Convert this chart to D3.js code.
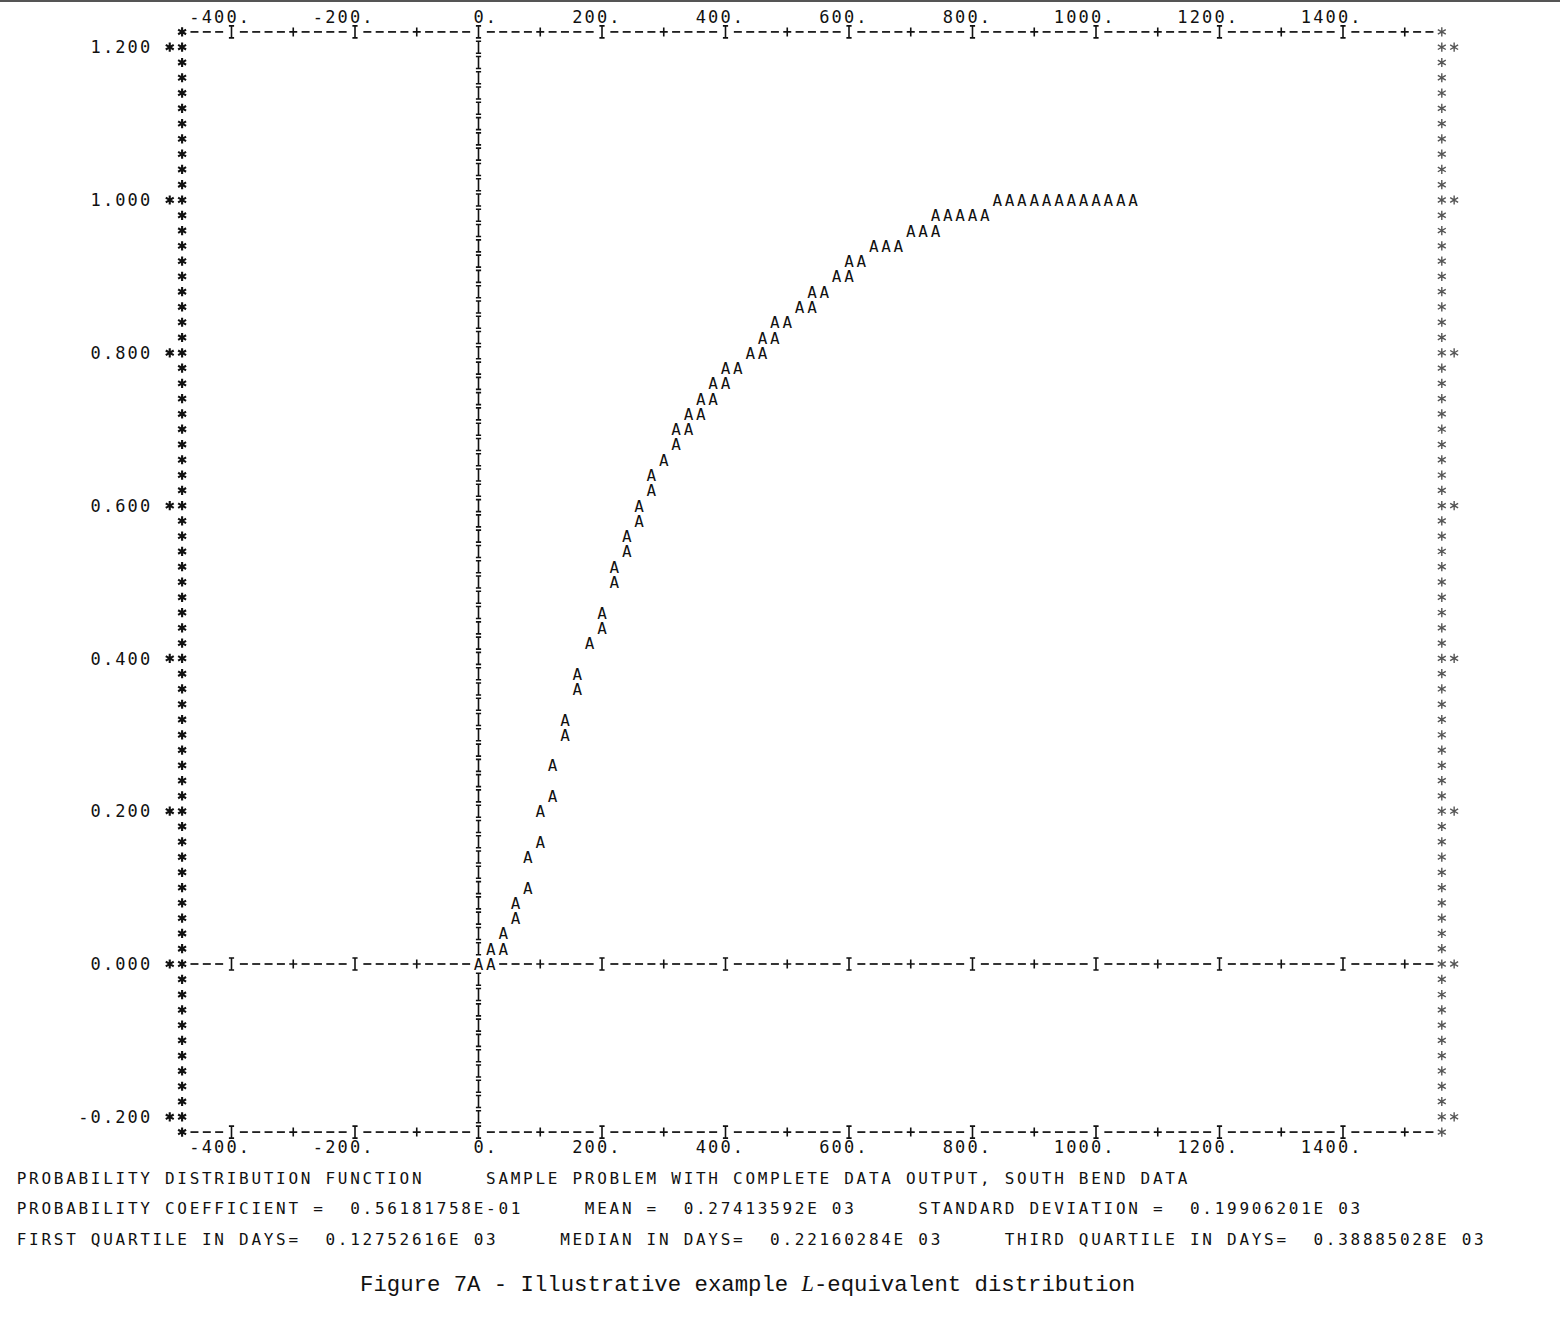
<!DOCTYPE html>
<html><head><meta charset="utf-8">
<script src="https://cdn.jsdelivr.net/npm/d3@7"></script>
<style>body{margin:0;background:#fff;} svg{display:block}</style>
</head><body>
<svg id="c" width="1560" height="1317"></svg>
<script>
// ---- data (days, cumulative probability) ----
const days = [0,20, 20,40, 40, 60,60, 80,80, 100,100, 120,120, 140,140, 160,160, 180,
  200,200, 220,220, 240,240, 260,260, 280,280, 300, 320, 320,340, 340,360, 360,380,
  380,400, 400,420, 440,460, 460,480, 480,500, 520,540, 540,560, 580,600, 600,620,
  640,660,680, 700,720,740, 740,760,780,800,820,
  840,860,880,900,920,940,960,980,1000,1020,1040,1060];
const prob = [0,0, 0.02,0.02, 0.04, 0.06,0.08, 0.10,0.14, 0.16,0.20, 0.22,0.26, 0.30,0.32, 0.36,0.38, 0.42,
  0.44,0.46, 0.50,0.52, 0.54,0.56, 0.58,0.60, 0.62,0.64, 0.66, 0.68, 0.70,0.70, 0.72,0.72, 0.74,0.74,
  0.76,0.76, 0.78,0.78, 0.80,0.80, 0.82,0.82, 0.84,0.84, 0.86,0.86, 0.88,0.88, 0.90,0.90, 0.92,0.92,
  0.94,0.94,0.94, 0.96,0.96,0.96, 0.98,0.98,0.98,0.98,0.98,
  1.00,1.00,1.00,1.00,1.00,1.00,1.00,1.00,1.00,1.00,1.00,1.00];
const xTickValues = [-400,-200,0,200,400,600,800,1000,1200,1400];
const xTickLabels = ["-400.","-200.","0.","200.","400.","600.","800.","1000.","1200.","1400."];
const yTickValues = [-0.2,0,0.2,0.4,0.6,0.8,1.0,1.2];
const yTickLabels = ["-0.200","0.000","0.200","0.400","0.600","0.800","1.000","1.200"];
const footerLines = [
  "PROBABILITY DISTRIBUTION FUNCTION     SAMPLE PROBLEM WITH COMPLETE DATA OUTPUT, SOUTH BEND DATA",
  "PROBABILITY COEFFICIENT =  0.56181758E-01     MEAN =  0.27413592E 03     STANDARD DEVIATION =  0.19906201E 03",
  "FIRST QUARTILE IN DAYS=  0.12752616E 03     MEDIAN IN DAYS=  0.22160284E 03     THIRD QUARTILE IN DAYS=  0.38885028E 03"
];
const captionParts = ["Figure 7A - Illustrative example ", "L", "-equivalent distribution"];

// ---- scales (one printer column = 20 days, one printer line = 0.02) ----
const CW = 12.35, RH = 15.28, X0 = 478.5, Y0 = 964;
const DX = 20, DY = 0.02;
const x = d3.scaleLinear().domain([-480, 1560]).range([X0 - 24*CW, X0 + 78*CW]);
const y = d3.scaleLinear().domain([-0.2, 1.2]).range([Y0 + 10*RH, Y0 - 60*RH]);
const cx = c => x(c*DX), cy = r => y(r*DY);
const FONT = "'DejaVu Sans Mono', 'Liberation Mono', monospace";

const svg = d3.select("#c");
svg.append("rect").attr("x",0).attr("y",0).attr("width",1560).attr("height",2).attr("fill","#555");

const colL = Math.round(x.domain()[0]/DX), colR = Math.round(x.domain()[1]/DX);
const rowB = Math.round(y.domain()[0]/DY), rowT = Math.round(y.domain()[1]/DY);
const mod = (a, n) => ((a % n) + n) % n;
const tickStep = Math.round((xTickValues[1]-xTickValues[0])/DX);
const yStepRows = Math.round((yTickValues[1]-yTickValues[0])/DY);

// data cells (printer column / line)
const pts = days.map((d, i) => ({c: Math.round(d/DX), r: Math.round(prob[i]/DY)}));
const occupied = new Set(pts.map(p => p.c + "," + p.r));

// ---- axis marks as printer-style glyph shapes ----
const marks = [];
const add = (c, r, t, side) => { if (!occupied.has(c + "," + r)) marks.push({c, r, t, side}); };
function axisRow(r, dbl) {
  add(colL, r, "star", "L"); add(colR, r, "star", "R");
  if (dbl) { add(colL-1, r, "star", "L"); add(colR+1, r, "star", "R"); }
  for (let c = colL+1; c < colR; c++) {
    const m = mod(c, tickStep);
    add(c, r, m === 0 ? "ibeam" : (m === tickStep/2 ? "plus" : "dash"));
  }
}
axisRow(rowT+1, false);
axisRow(rowB-1, false);
for (let r = rowB; r <= rowT; r++) {
  if (r === 0) { axisRow(0, true); continue; }
  const labeled = mod(r, yStepRows) === 0;
  add(colL, r, "star", "L"); add(colR, r, "star", "R");
  if (labeled) { add(colL-1, r, "star", "L"); add(colR+1, r, "star", "R"); }
  add(0, r, "ibeam");
}
const u = Math.sqrt(3)/2;
const shape = {
  dash: "M-4,0H4",
  plus: "M-4,0H4M0,-4.5V4.5",
  ibeam: "M0,-6V6M-2.6,-6H2.6M-2.6,6H2.6",
  star: (() => { const R = 4.6; return `M0,${-R}V${R}M${-R*u},${-R/2}L${R*u},${R/2}M${-R*u},${R/2}L${R*u},${-R/2}`; })()
};
svg.append("g").selectAll("path").data(marks).join("path")
  .attr("transform", d => `translate(${cx(d.c)},${cy(d.r)})`)
  .attr("d", d => shape[d.t])
  .attr("fill", "none")
  .attr("stroke", d => d.side === "R" ? "#555" : "#111")
  .attr("stroke-width", d => d.t === "star" ? (d.side === "R" ? 1.4 : 2.1) : (d.t === "dash" ? 1.7 : 1.6))
  .attr("stroke-linecap", "butt");

// ---- data points: letter A, one text per printer column ----
const byCol = d3.groups(pts, p => p.c);
svg.append("g").attr("font-family", FONT).attr("font-size", 16).attr("fill", "#111")
  .attr("text-anchor", "middle")
  .selectAll("text").data(byCol).join("text")
  .attr("x", ([c, arr]) => arr.map(() => cx(c)).join(" "))
  .attr("y", ([c, arr]) => arr.map(p => cy(p.r) + 6).join(" "))
  .text(([c, arr]) => "A".repeat(arr.length));

// ---- text laid out on the printer grid (runs split at multiple spaces) ----
function gridText(g, str, c0, r, size) {
  const re = /\S+(?: \S+)*/g;
  let m;
  while ((m = re.exec(str)) !== null) {
    const seg = m[0], start = c0 + m.index;
    g.append("text")
      .attr("x", [...seg].map((ch, k) => cx(start + k)).join(" "))
      .attr("y", cy(r) + size*0.36)
      .attr("font-size", size)
      .text(seg);
  }
}
const tg = svg.append("g").attr("font-family", FONT).attr("fill", "#111").attr("text-anchor", "middle");
xTickValues.forEach((v, i) => {
  const lab = xTickLabels[i], c0 = Math.round(v/DX) - (lab.length - 2);
  gridText(tg, lab, c0, rowT+2, 17);
  gridText(tg, lab, c0, rowB-2, 17);
});
yTickValues.forEach((v, i) => {
  const lab = yTickLabels[i];
  gridText(tg, lab, colL - 3 - lab.length + 1, Math.round(v/DY), 17);
});
footerLines.forEach((line, i) => gridText(tg, line, -37, rowB - 4 - 2*i, 16));

// caption
const cap = svg.append("text")
  .attr("x", 360).attr("y", 1291)
  .attr("font-family", "'Liberation Mono', 'Courier New', monospace")
  .attr("font-size", 22.3).attr("fill", "#111");
captionParts.forEach((t, i) => {
  const ts = cap.append("tspan").text(t);
  if (i === 1) ts.attr("font-style", "italic").attr("font-family", "'Liberation Serif', serif");
});
</script>
</body></html>
